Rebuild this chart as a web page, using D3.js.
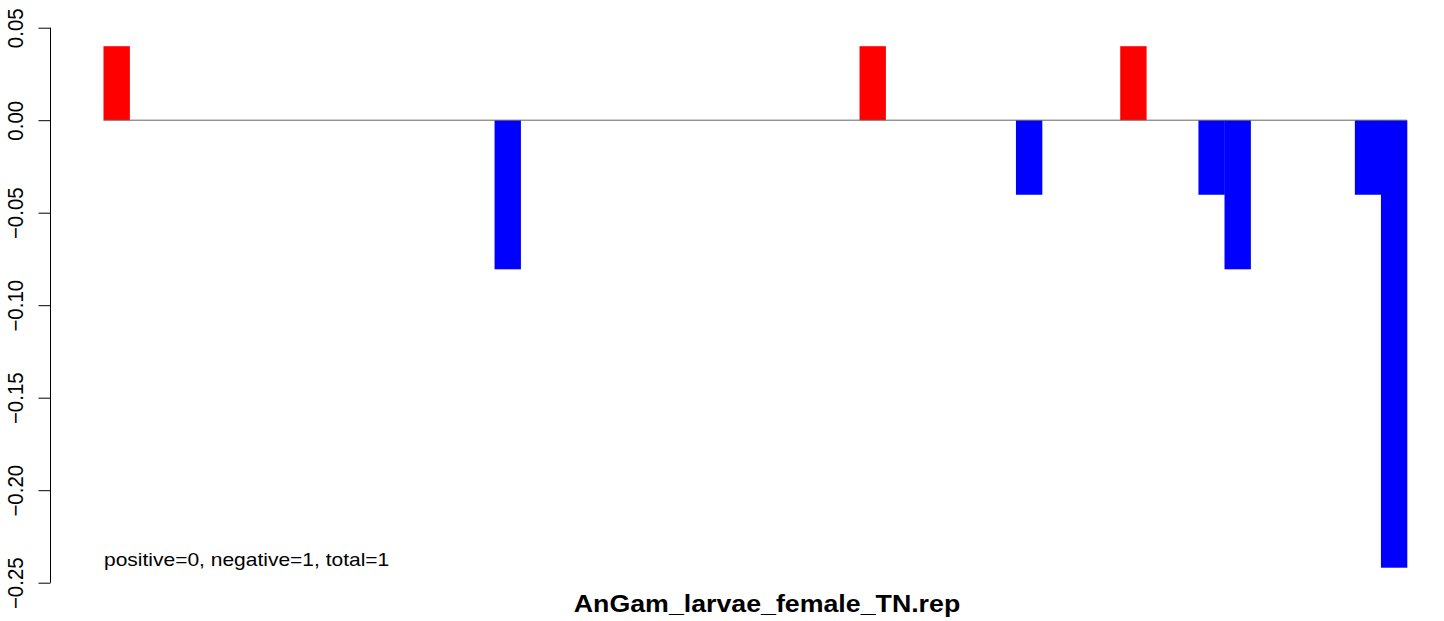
<!DOCTYPE html>
<html><head><meta charset="utf-8">
<script src="https://cdn.jsdelivr.net/npm/d3@7"></script>
<style>body{margin:0;background:#fff}svg{display:block}</style>
</head><body>
<script>
// 50 slots; most are zero
const barIndex = d3.range(50);
const nonZeroIdx = [0, 15, 29, 35, 39, 42, 43, 48, 49];
const nonZeroVal = [0.04, -0.0806, 0.04, -0.0403, 0.04, -0.0403, -0.0806, -0.0403, -0.2419];
const yTicks = [0.05, 0.00, -0.05, -0.10, -0.15, -0.20, -0.25];
const title = "AnGam_larvae_female_TN.rep";
const note = "positive=0, negative=1, total=1";

const values = barIndex.map(i => { const k = nonZeroIdx.indexOf(i); return k >= 0 ? nonZeroVal[k] : 0; });

const W = 1444, H = 621;
const FONT = "Liberation Sans, Arial, Helvetica, sans-serif";
const svg = d3.select("body").append("svg").attr("width", W).attr("height", H);
const x = d3.scaleBand().domain(barIndex).range([103.5, 1407]).paddingInner(0).paddingOuter(0);
const y = d3.scaleLinear().domain([-0.25, 0.05]).range([582.7, 27.7]);

svg.append("g").selectAll("rect").data(values.map((v, i) => ({v, i})).filter(d => d.v !== 0))
  .join("rect")
  .attr("x", d => x(d.i)).attr("width", x.bandwidth() + 0.3)
  .attr("y", d => y(Math.max(0, d.v))).attr("height", d => Math.abs(y(d.v) - y(0)))
  .attr("fill", d => d.v > 0 ? "#ff0000" : "#0000ff");

svg.append("line").attr("x1", x(0)).attr("x2", 1407).attr("y1", y(0)).attr("y2", y(0))
  .attr("stroke", "#666").attr("stroke-width", 1);

const ax = svg.append("g").attr("transform", "translate(50.5,0)")
  .call(d3.axisLeft(y).tickValues(yTicks).tickSize(12).tickFormat(d3.format(".2f")));
ax.select(".domain").attr("d", `M0,${y(0.05)}V${y(-0.25)}`).attr("stroke", "#000");
ax.selectAll(".tick line").attr("stroke", "#000");
ax.selectAll(".tick text").text(d => d3.format(".2f")(d).replace("-", "\u2212"))
  .attr("font-family", FONT).attr("font-size", 20.5).attr("fill", "#000")
  .attr("transform", "rotate(-90) scale(1,1.07)").attr("x", 0).attr("y", -25.5).attr("dy", 0)
  .attr("text-anchor", "middle");

svg.append("text").attr("transform", "translate(104,566) scale(1.2,1)").text(note)
  .attr("font-family", FONT).attr("font-size", 17.5).attr("fill", "#000");
svg.append("text").attr("transform", "translate(767,611.5) scale(1.163,1)").text(title).attr("text-anchor", "middle")
  .attr("font-family", FONT).attr("font-size", 23).attr("font-weight", "bold").attr("fill", "#000");
</script>
</body></html>
